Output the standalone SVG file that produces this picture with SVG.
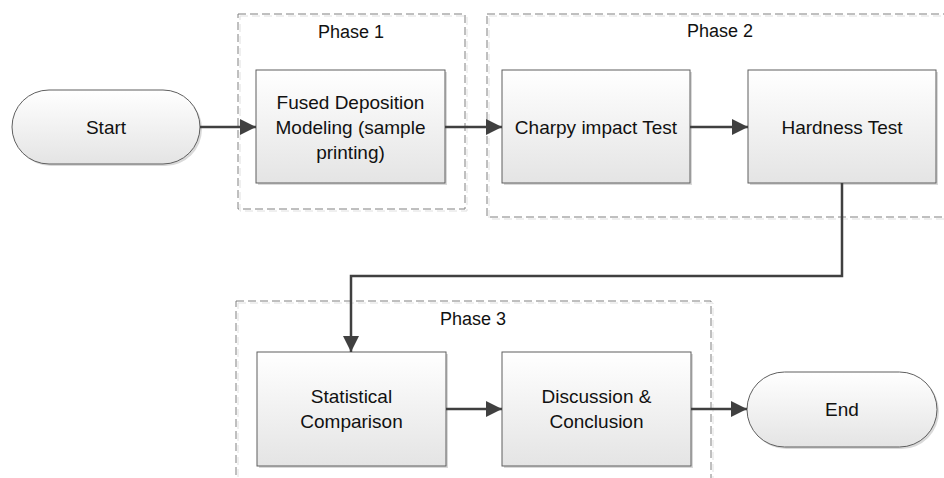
<svg xmlns="http://www.w3.org/2000/svg" width="944" height="478" viewBox="0 0 944 478">
<defs>
<linearGradient id="g" x1="0" y1="0" x2="0" y2="1"><stop offset="0" stop-color="#ffffff"/><stop offset="1" stop-color="#e4e4e4"/></linearGradient>
<marker id="arr" markerUnits="userSpaceOnUse" markerWidth="16" markerHeight="16" viewBox="0 0 16 16" refX="16" refY="8" orient="auto"><path d="M0,0 L16,8 L0,16 Z" fill="#404040"/></marker>
</defs>
<style>
.box{fill:url(#g);stroke:#5f5f5f;stroke-width:1}
.sh{fill:#d9d9d9;stroke:none}
.grp{fill:none;stroke:#808080;stroke-width:1;stroke-dasharray:8,4}
.grpsh{fill:none;stroke:#e0e0e0;stroke-width:1;stroke-dasharray:8,4}
.t{font-family:"Liberation Sans",Arial,sans-serif;font-size:19px;fill:#111;text-anchor:middle}
.pl{font-family:"Liberation Sans",Arial,sans-serif;font-size:18px;fill:#111;text-anchor:middle}
.c{fill:none;stroke:#404040;stroke-width:2.5}
</style>
<rect width="944" height="478" fill="#ffffff"/>
<g id="phase1">
<rect class="grpsh" x="240" y="16" width="227" height="195"/>
<rect class="grp" x="238" y="14" width="227" height="195"/>
<text class="pl" x="351" y="38">Phase 1</text>
</g>
<g id="phase2">
<rect class="grpsh" x="489" y="16" width="480" height="203"/>
<rect class="grp" x="487" y="14" width="480" height="203"/>
<text class="pl" x="720" y="37">Phase 2</text>
</g>
<g id="phase3">
<rect class="grpsh" x="238" y="303" width="475" height="200"/>
<rect class="grp" x="236" y="301" width="475" height="200"/>
<text class="pl" x="473" y="325">Phase 3</text>
</g>
<g id="start">
<rect class="sh" x="14" y="92" width="188" height="74" rx="37"/>
<rect class="box" x="12" y="90" width="188" height="74" rx="37"/>
<text class="t" x="106" y="134">Start</text>
</g>
<g id="fdm">
<rect class="sh" x="258" y="72" width="189" height="113"/>
<rect class="box" x="256" y="70" width="189" height="113"/>
<text class="t" x="350.5" y="109">Fused Deposition</text>
<text class="t" x="350.5" y="134">Modeling (sample</text>
<text class="t" x="350.5" y="159">printing)</text>
</g>
<g id="charpy">
<rect class="sh" x="504" y="72" width="188" height="113"/>
<rect class="box" x="502" y="70" width="188" height="113"/>
<text class="t" x="596" y="134">Charpy impact Test</text>
</g>
<g id="hardness">
<rect class="sh" x="750" y="72" width="188" height="113"/>
<rect class="box" x="748" y="70" width="188" height="113"/>
<text class="t" x="842" y="134">Hardness Test</text>
</g>
<g id="statistical">
<rect class="sh" x="259" y="354" width="189" height="114"/>
<rect class="box" x="257" y="352" width="189" height="114"/>
<text class="t" x="351.5" y="403">Statistical</text>
<text class="t" x="351.5" y="428">Comparison</text>
</g>
<g id="discussion">
<rect class="sh" x="504" y="354" width="189" height="114"/>
<rect class="box" x="502" y="352" width="189" height="114"/>
<text class="t" x="596.5" y="403">Discussion &amp;</text>
<text class="t" x="596.5" y="428">Conclusion</text>
</g>
<g id="end">
<rect class="sh" x="749" y="374" width="190" height="75" rx="37.5"/>
<rect class="box" x="747" y="372" width="190" height="75" rx="37.5"/>
<text class="t" x="842" y="416">End</text>
</g>
<g id="connectors">
<path class="c" d="M200,127 H256" marker-end="url(#arr)"/>
<path class="c" d="M445,127 H502" marker-end="url(#arr)"/>
<path class="c" d="M690,127 H748" marker-end="url(#arr)"/>
<path class="c" d="M842,183 V276 H351 V352" marker-end="url(#arr)"/>
<path class="c" d="M446,409 H502" marker-end="url(#arr)"/>
<path class="c" d="M691,409 H747" marker-end="url(#arr)"/>
</g>
</svg>
